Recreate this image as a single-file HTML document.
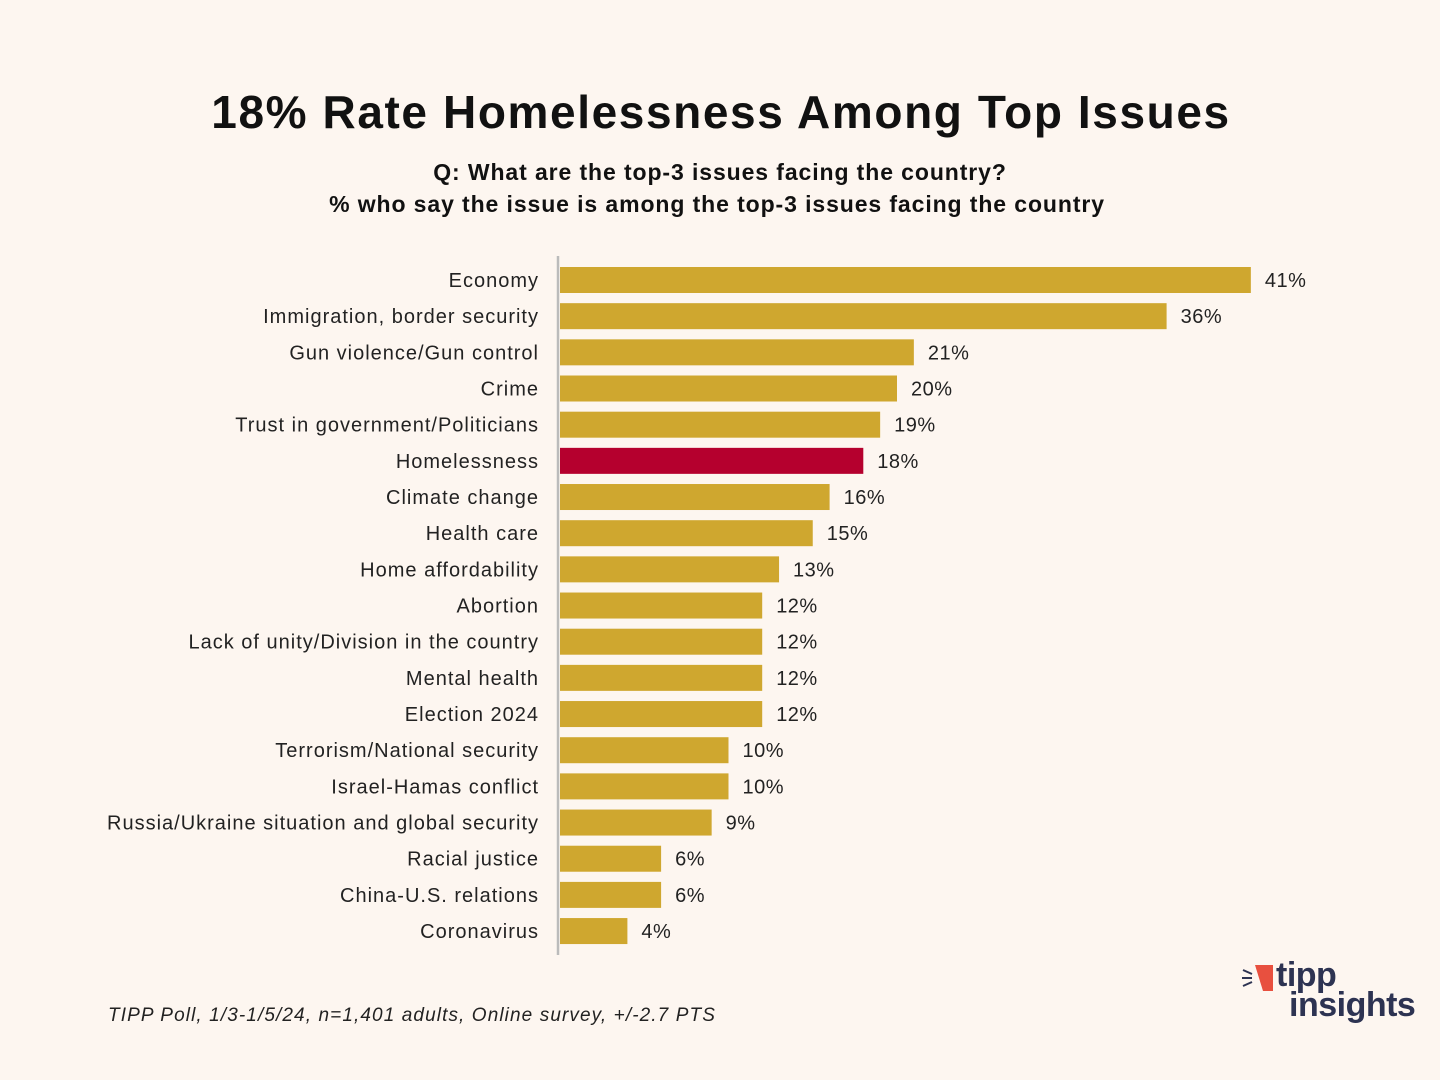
<!DOCTYPE html>
<html><head><meta charset="utf-8"><style>
body{margin:0;background:#fdf6f0;}
svg{display:block;font-family:"Liberation Sans",sans-serif;}
</style></head><body>
<svg id="chart" width="1440" height="1080">
<rect width="1440" height="1080" fill="#fdf6f0"/>
<text x="721" y="128" text-anchor="middle" font-size="46" font-weight="bold" fill="#111" letter-spacing="1.6">18% Rate Homelessness Among Top Issues</text>
<text x="720" y="180" text-anchor="middle" font-size="23" font-weight="bold" fill="#111" letter-spacing="0.9">Q:  What are the top-3 issues facing the country?</text>
<text x="717" y="212" text-anchor="middle" font-size="23" font-weight="bold" fill="#111" letter-spacing="0.9">% who say the issue is among the top-3 issues facing the country</text>
<g id="bars"></g>
<line x1="558" y1="256" x2="558" y2="955" stroke="#bbb" stroke-width="2.5"/>
<text x="108" y="1021" font-size="19" font-style="italic" fill="#222" letter-spacing="1.1">TIPP Poll, 1/3-1/5/24, n=1,401 adults, Online survey, +/-2.7 PTS</text>
<g>
<polygon points="1255,965 1273,965 1273,991 1263,991" fill="#e8503f"/>
<line x1="1243" y1="970" x2="1252" y2="974" stroke="#2d3352" stroke-width="2"/>
<line x1="1242" y1="978" x2="1252" y2="978" stroke="#2d3352" stroke-width="2"/>
<line x1="1243" y1="986" x2="1252" y2="982" stroke="#2d3352" stroke-width="2"/>
<text x="1276" y="986" font-size="34" font-weight="bold" fill="#2d3352" letter-spacing="-0.5">tipp</text>
<text x="1289" y="1016" font-size="34" font-weight="bold" fill="#2d3352" letter-spacing="-0.5">insights</text>
</g>
</svg>
<script>
const categories=["Economy","Immigration, border security","Gun violence/Gun control","Crime","Trust in government/Politicians","Homelessness","Climate change","Health care","Home affordability","Abortion","Lack of unity/Division in the country","Mental health","Election 2024","Terrorism/National security","Israel-Hamas conflict","Russia/Ukraine situation and global security","Racial justice","China-U.S. relations","Coronavirus"];
const values=[41,36,21,20,19,18,16,15,13,12,12,12,12,10,10,9,6,6,4];
const highlight="Homelessness";
const NS="http://www.w3.org/2000/svg";
const x0=560, perUnit=16.85, y0=280, step=36.17, bh=26;
const xs=v=>x0+v*perUnit;
const ys=i=>y0+i*step;
const g=document.getElementById('bars');
categories.forEach((c,i)=>{
 const v=values[i];
 const r=document.createElementNS(NS,'rect');
 r.setAttribute('x',x0);r.setAttribute('y',ys(i)-bh/2);
 r.setAttribute('width',xs(v)-x0);r.setAttribute('height',bh);
 r.setAttribute('fill',c===highlight?'#b5002e':'#cfa72f');
 
 
 g.appendChild(r);
 const l=document.createElementNS(NS,'text');
 l.setAttribute('x',539);l.setAttribute('y',ys(i)+7);
 l.setAttribute('text-anchor','end');l.setAttribute('font-size','20');l.setAttribute('fill','#222');
 l.setAttribute('letter-spacing','1');
 l.textContent=c;
 
 
 g.appendChild(l);
 const t=document.createElementNS(NS,'text');
 t.setAttribute('x',xs(v)+14);t.setAttribute('y',ys(i)+7);
 t.setAttribute('font-size','20');t.setAttribute('fill','#222');
 t.setAttribute('letter-spacing','0.5');
 t.textContent=v+'%';
 
 
 g.appendChild(t);
});
</script>
</body></html>
